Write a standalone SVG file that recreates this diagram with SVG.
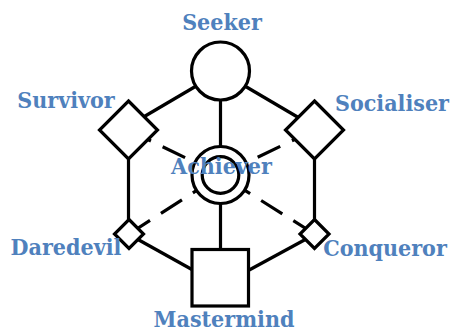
<svg xmlns="http://www.w3.org/2000/svg" width="453" height="331" viewBox="0 0 453 331">
<style>
.s{fill:#fff;stroke:#000;stroke-width:3.2}
.e{stroke:#000;stroke-width:3.2;fill:none}
.d{stroke:#000;stroke-width:3.2;fill:none;stroke-dasharray:25 13}
.t{font-family:"DejaVu Serif Condensed","DejaVu Serif",serif;font-weight:bold;font-size:23px;fill:#4f81bd;text-anchor:middle}
</style>
<rect width="453" height="331" fill="#fff"/>
<g id="connectors">
<line class="e" x1="220" y1="72" x2="135" y2="122"/>
<line class="e" x1="221" y1="72" x2="306" y2="122"/>
<line class="e" x1="220.5" y1="90" x2="220.5" y2="160"/>
<line class="e" x1="128.5" y1="150" x2="128.5" y2="225"/>
<line class="e" x1="314.5" y1="150" x2="314.5" y2="225"/>
<line class="e" x1="220.5" y1="190" x2="220.5" y2="260"/>
<line class="e" x1="129" y1="234.5" x2="200" y2="274"/>
<line class="e" x1="314.5" y1="234.5" x2="240" y2="275"/>
<line class="d" x1="128.5" y1="130" x2="220.5" y2="175"/>
<line class="d" x1="314.5" y1="130" x2="220.5" y2="175"/>
<line class="d" x1="129" y1="234" x2="220.5" y2="175"/>
<line class="d" x1="314.5" y1="234" x2="220.5" y2="175"/>
</g>
<g id="seeker">
<circle class="s" cx="220.5" cy="71" r="29"/>
<text class="t" x="222" y="30">Seeker</text>
</g>
<g id="survivor">
<polygon class="s" points="128.5,101 157.5,130 128.5,159 99.5,130"/>
<text class="t" x="66" y="108">Survivor</text>
</g>
<g id="socialiser">
<polygon class="s" points="314.5,101 343.5,130 314.5,159 285.5,130"/>
<text class="t" x="392" y="111">Socialiser</text>
</g>
<g id="achiever">
<circle class="s" cx="220.5" cy="175" r="28.5"/>
<circle class="s" cx="220.5" cy="175" r="18.3"/>
<text class="t" x="221.5" y="174">Achiever</text>
</g>
<g id="daredevil">
<polygon class="s" points="129,219.5 143.5,234 129,248.5 114.5,234"/>
<text class="t" x="66" y="255">Daredevil</text>
</g>
<g id="conqueror">
<polygon class="s" points="314.5,219.5 329,234 314.5,248.5 300,234"/>
<text class="t" x="385" y="256">Conqueror</text>
</g>
<g id="mastermind">
<rect class="s" x="192" y="249.5" width="56.5" height="56.5"/>
<text class="t" x="224" y="327">Mastermind</text>
</g>
</svg>
